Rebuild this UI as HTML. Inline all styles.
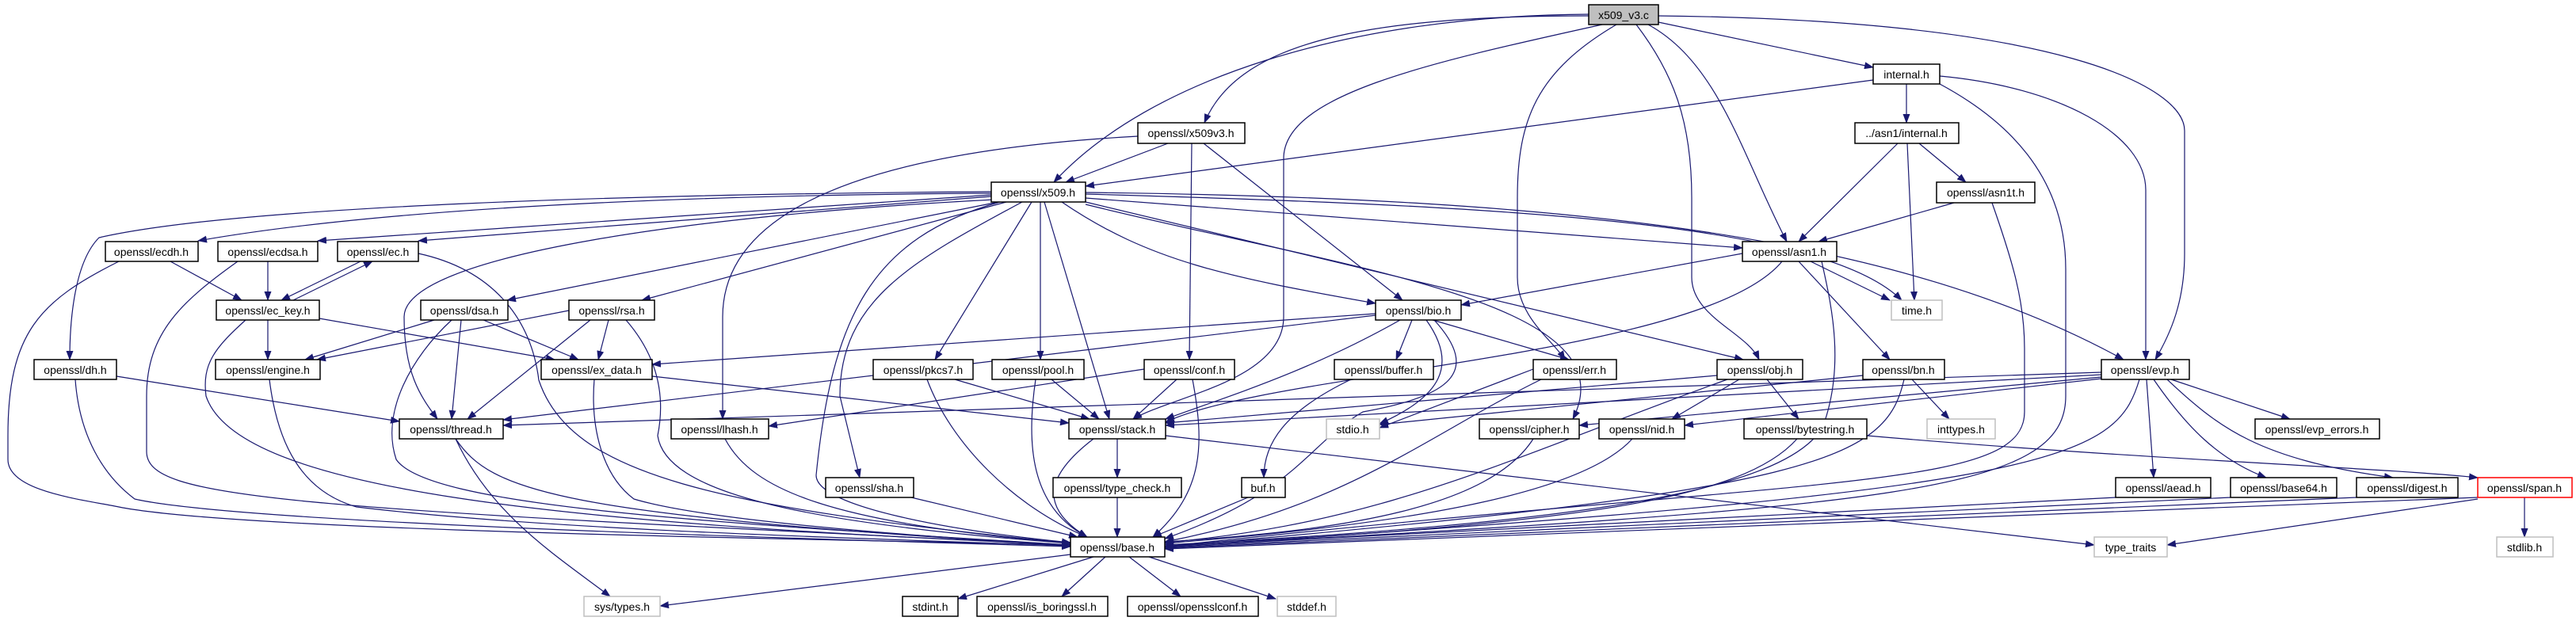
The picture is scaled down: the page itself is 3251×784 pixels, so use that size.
<!DOCTYPE html>
<html><head><meta charset="utf-8"><style>
html,body{margin:0;padding:0;background:#fff;}
svg{display:block;}
.e{fill:none;stroke:#191970;stroke-width:1.2;marker-end:url(#a);}
.n rect{fill:#fff;stroke:#000;stroke-width:1.5;}
.g rect{fill:#fff;stroke:#bfbfbf;stroke-width:1.5;}
text{font-family:"Liberation Sans",sans-serif;font-size:14px;fill:#000;text-anchor:middle;}
</style></head><body>
<svg width="3251" height="784" viewBox="0 0 3251 784" xmlns="http://www.w3.org/2000/svg">
<defs><marker id="a" markerWidth="12" markerHeight="9" refX="11" refY="4.5" orient="auto" markerUnits="userSpaceOnUse"><path d="M0,0 L12,4.5 L0,9 z" fill="#191970"/></marker></defs>
<g>
<path class="e" d="M2005,20 C1700,20 1560,60 1520,155"/>
<path class="e" d="M2005,18 C1700,20 1450,100 1330,230"/>
<path class="e" d="M2022,31 C1800,80 1620,120 1620,200 L1620,400 C1620,480 1480,500 1430,529"/>
<path class="e" d="M2040,31 C1940,90 1915,150 1915,250 L1915,350 C1915,400 1960,430 1975,454"/>
<path class="e" d="M2065,31 C2110,90 2135,150 2135,250 L2135,350 C2135,400 2205,420 2220,454"/>
<path class="e" d="M2080,31 C2170,80 2200,200 2255,305"/>
<path class="e" d="M2093,28 L2364,85"/>
<path class="e" d="M2093,20 C2600,25 2757,110 2757,165 L2757,320 C2757,380 2740,420 2720,454"/>
<path class="e" d="M2406,106 L2406,155"/>
<path class="e" d="M2364,101 L1370,235"/>
<path class="e" d="M2448,96 C2600,110 2708,170 2708,240 L2708,454"/>
<path class="e" d="M2448,106 C2530,150 2607,220 2607,340 L2607,500 C2607,620 2400,640 1470,690"/>
<path class="e" d="M2395,181 L2270,305"/>
<path class="e" d="M2407,181 L2416,379"/>
<path class="e" d="M2422,181 L2481,230"/>
<path class="e" d="M2466,256 L2295,305"/>
<path class="e" d="M2514,256 C2540,330 2555,380 2555,440 L2555,520 C2555,620 2300,600 1470,690"/>
<path class="e" d="M1474,181 L1345,230"/>
<path class="e" d="M1519,181 L1770,379"/>
<path class="e" d="M1504,181 L1501,454"/>
<path class="e" d="M1436,172 C1200,185 912,230 912,400 L912,529"/>
<path class="e" d="M1251,244 C900,246 500,260 250,304"/>
<path class="e" d="M1251,246 L401,304"/>
<path class="e" d="M1251,248 L528,304"/>
<path class="e" d="M1251,242 C800,245 300,260 125,300 C95,330 88,400 88,454"/>
<path class="e" d="M1260,255 L640,379"/>
<path class="e" d="M1270,255 L810,379"/>
<path class="e" d="M1255,252 C900,270 510,320 510,400 C510,470 530,500 552,529"/>
<path class="e" d="M1290,255 C1150,330 1060,380 1060,500 L1085,603"/>
<path class="e" d="M1302,255 L1180,454"/>
<path class="e" d="M1313,255 L1313,454"/>
<path class="e" d="M1318,255 L1400,529"/>
<path class="e" d="M1262,255 C1100,300 1050,400 1030,600 C1030,640 1200,670 1351,685"/>
<path class="e" d="M1340,255 C1450,330 1550,350 1736,383"/>
<path class="e" d="M1370,258 C1700,340 2060,380 1985,529"/>
<path class="e" d="M1370,255 L2200,454"/>
<path class="e" d="M1370,250 L2199,313"/>
<path class="e" d="M1370,245 C1900,260 2300,280 2400,379"/>
<path class="e" d="M1370,243 C2000,250 2400,300 2680,454"/>
<path class="e" d="M150,330 C50,380 10,420 10,550 L10,580 C10,620 100,630 150,640 C300,670 1000,680 1351,688"/>
<path class="e" d="M215,330 L305,379"/>
<path class="e" d="M338,330 L338,379"/>
<path class="e" d="M300,330 C230,380 185,420 185,500 L185,570 C185,630 350,640 1351,688"/>
<path class="e" d="M455,330 L355,379"/>
<path class="e" d="M528,320 C620,340 670,400 680,480 C720,600 900,640 1351,686"/>
<path class="e" d="M370,379 L470,330"/>
<path class="e" d="M338,404 L338,454"/>
<path class="e" d="M403,402 L700,454"/>
<path class="e" d="M310,404 C270,440 255,460 260,500 C300,620 700,660 1351,688"/>
<path class="e" d="M548,404 L385,454"/>
<path class="e" d="M610,404 L730,454"/>
<path class="e" d="M582,404 L570,529"/>
<path class="e" d="M570,404 C520,450 480,520 500,580 C540,640 900,660 1351,688"/>
<path class="e" d="M718,392 L400,454"/>
<path class="e" d="M768,404 L755,454"/>
<path class="e" d="M745,404 L590,529"/>
<path class="e" d="M790,404 C830,450 840,500 830,550 C840,620 1000,660 1351,686"/>
<path class="e" d="M147,475 L504,532"/>
<path class="e" d="M95,479 C100,550 130,600 170,630 C300,660 1000,680 1351,690"/>
<path class="e" d="M340,479 C350,560 380,620 450,640 C700,670 1100,680 1351,689"/>
<path class="e" d="M823,475 L1349,534"/>
<path class="e" d="M750,479 C745,540 760,600 800,630 C900,660 1200,680 1351,688"/>
<path class="e" d="M575,554 C620,620 700,650 1351,689"/>
<path class="e" d="M575,554 C620,650 700,700 770,753"/>
<path class="e" d="M915,554 C950,620 1050,660 1351,686"/>
<path class="e" d="M1150,628 L1360,678"/>
<path class="e" d="M1205,479 L1375,529"/>
<path class="e" d="M1170,479 C1200,560 1280,640 1372,678"/>
<path class="e" d="M1327,479 L1387,529"/>
<path class="e" d="M1307,479 C1295,560 1300,640 1372,678"/>
<path class="e" d="M1485,479 L1430,529"/>
<path class="e" d="M1505,479 C1520,560 1520,620 1455,678"/>
<path class="e" d="M1444,466 L970,538"/>
<path class="e" d="M1736,396 L823,460"/>
<path class="e" d="M1736,398 L635,530"/>
<path class="e" d="M1767,404 C1650,470 1550,500 1471,529"/>
<path class="e" d="M1782,404 L1762,454"/>
<path class="e" d="M1808,404 L1980,454"/>
<path class="e" d="M1800,404 C1840,460 1820,500 1741,535"/>
<path class="e" d="M1810,404 C1870,470 1830,500 1720,520 C1650,560 1640,620 1470,680"/>
<path class="e" d="M1705,479 C1620,520 1595,560 1595,603"/>
<path class="e" d="M1575,628 L1455,678"/>
<path class="e" d="M1935,466 L1741,540"/>
<path class="e" d="M1945,479 C1800,550 1700,640 1470,684"/>
<path class="e" d="M2195,479 L2110,529"/>
<path class="e" d="M2230,479 L2270,529"/>
<path class="e" d="M2180,479 C1900,580 1750,660 1470,685"/>
<path class="e" d="M2167,474 L1471,534"/>
<path class="e" d="M2199,320 L1844,385"/>
<path class="e" d="M2285,330 L2385,379"/>
<path class="e" d="M2270,330 L2385,454"/>
<path class="e" d="M2299,330 C2310,380 2330,460 2300,540 C2250,620 2000,660 1470,688"/>
<path class="e" d="M2249,330 C2150,450 1600,470 1471,533"/>
<path class="e" d="M2413,479 L2460,529"/>
<path class="e" d="M2403,479 C2380,580 2300,620 1470,690"/>
<path class="e" d="M2351,474 L1741,536"/>
<path class="e" d="M2652,470 L635,537"/>
<path class="e" d="M2652,473 L1471,537"/>
<path class="e" d="M2652,476 L1993,537"/>
<path class="e" d="M2652,478 L2126,537"/>
<path class="e" d="M2740,479 L2890,529"/>
<path class="e" d="M2709,479 L2718,603"/>
<path class="e" d="M2718,479 C2760,540 2800,580 2860,603"/>
<path class="e" d="M2735,479 C2800,540 2850,580 3020,603"/>
<path class="e" d="M2700,479 C2670,580 2600,620 1470,690"/>
<path class="e" d="M2268,554 C2200,630 2000,660 1470,690"/>
<path class="e" d="M2356,550 C2700,580 3000,590 3127,603"/>
<path class="e" d="M1935,554 C1880,640 1700,670 1470,684"/>
<path class="e" d="M2060,554 C2000,620 1800,660 1470,686"/>
<path class="e" d="M1410,554 L1410,603"/>
<path class="e" d="M1380,554 C1320,600 1310,640 1372,678"/>
<path class="e" d="M1471,550 L2643,688"/>
<path class="e" d="M1410,628 L1410,678"/>
<path class="e" d="M2670,628 L1470,690"/>
<path class="e" d="M2815,628 L1470,691"/>
<path class="e" d="M2974,628 L1470,692"/>
<path class="e" d="M3127,628 L1470,693"/>
<path class="e" d="M3127,630 L2735,688"/>
<path class="e" d="M3186,628 L3186,678"/>
<path class="e" d="M1380,703 L1209,756"/>
<path class="e" d="M1395,703 L1340,753"/>
<path class="e" d="M1425,703 L1490,753"/>
<path class="e" d="M1450,703 L1610,756"/>
<path class="e" d="M1351,700 L833,765"/>
</g>
<g class="n"><rect x="2005" y="6" width="88" height="25" style="fill:#bfbfbf"/><text x="2049" y="24">x509_v3.c</text></g>
<g class="n"><rect x="2364" y="81" width="84" height="25"/><text x="2406" y="99">internal.h</text></g>
<g class="n"><rect x="1436" y="155" width="135" height="26"/><text x="1503" y="173">openssl/x509v3.h</text></g>
<g class="n"><rect x="2341" y="155" width="131" height="26"/><text x="2406" y="173">../asn1/internal.h</text></g>
<g class="n"><rect x="1251" y="230" width="119" height="25"/><text x="1310" y="248">openssl/x509.h</text></g>
<g class="n"><rect x="2444" y="230" width="124" height="26"/><text x="2506" y="248">openssl/asn1t.h</text></g>
<g class="n"><rect x="133" y="305" width="117" height="25"/><text x="191" y="323">openssl/ecdh.h</text></g>
<g class="n"><rect x="275" y="305" width="126" height="25"/><text x="338" y="323">openssl/ecdsa.h</text></g>
<g class="n"><rect x="426" y="305" width="102" height="25"/><text x="477" y="323">openssl/ec.h</text></g>
<g class="n"><rect x="2199" y="305" width="119" height="25"/><text x="2258" y="323">openssl/asn1.h</text></g>
<g class="n"><rect x="273" y="379" width="130" height="25"/><text x="338" y="397">openssl/ec_key.h</text></g>
<g class="n"><rect x="531" y="379" width="110" height="25"/><text x="586" y="397">openssl/dsa.h</text></g>
<g class="n"><rect x="718" y="379" width="108" height="25"/><text x="772" y="397">openssl/rsa.h</text></g>
<g class="n"><rect x="1736" y="379" width="108" height="25"/><text x="1790" y="397">openssl/bio.h</text></g>
<g class="g"><rect x="2387" y="379" width="64" height="25"/><text x="2419" y="397">time.h</text></g>
<g class="n"><rect x="43" y="454" width="104" height="25"/><text x="95" y="472">openssl/dh.h</text></g>
<g class="n"><rect x="272" y="454" width="132" height="25"/><text x="338" y="472">openssl/engine.h</text></g>
<g class="n"><rect x="683" y="454" width="140" height="25"/><text x="753" y="472">openssl/ex_data.h</text></g>
<g class="n"><rect x="1102" y="454" width="126" height="25"/><text x="1165" y="472">openssl/pkcs7.h</text></g>
<g class="n"><rect x="1252" y="454" width="116" height="25"/><text x="1310" y="472">openssl/pool.h</text></g>
<g class="n"><rect x="1444" y="454" width="114" height="25"/><text x="1501" y="472">openssl/conf.h</text></g>
<g class="n"><rect x="1684" y="454" width="125" height="25"/><text x="1746" y="472">openssl/buffer.h</text></g>
<g class="n"><rect x="1935" y="454" width="105" height="25"/><text x="1987" y="472">openssl/err.h</text></g>
<g class="n"><rect x="2167" y="454" width="108" height="25"/><text x="2221" y="472">openssl/obj.h</text></g>
<g class="n"><rect x="2351" y="454" width="103" height="25"/><text x="2402" y="472">openssl/bn.h</text></g>
<g class="n"><rect x="2652" y="454" width="111" height="25"/><text x="2707" y="472">openssl/evp.h</text></g>
<g class="n"><rect x="504" y="529" width="131" height="25"/><text x="569" y="547">openssl/thread.h</text></g>
<g class="n"><rect x="847" y="529" width="123" height="25"/><text x="908" y="547">openssl/lhash.h</text></g>
<g class="n"><rect x="1349" y="529" width="122" height="25"/><text x="1410" y="547">openssl/stack.h</text></g>
<g class="g"><rect x="1674" y="529" width="67" height="25"/><text x="1707" y="547">stdio.h</text></g>
<g class="n"><rect x="1867" y="529" width="126" height="25"/><text x="1930" y="547">openssl/cipher.h</text></g>
<g class="n"><rect x="2018" y="529" width="108" height="25"/><text x="2072" y="547">openssl/nid.h</text></g>
<g class="n"><rect x="2201" y="529" width="155" height="25"/><text x="2278" y="547">openssl/bytestring.h</text></g>
<g class="g"><rect x="2432" y="529" width="86" height="25"/><text x="2475" y="547">inttypes.h</text></g>
<g class="n"><rect x="2846" y="529" width="157" height="25"/><text x="2924" y="547">openssl/evp_errors.h</text></g>
<g class="n"><rect x="1042" y="603" width="111" height="25"/><text x="1097" y="621">openssl/sha.h</text></g>
<g class="n"><rect x="1329" y="603" width="162" height="25"/><text x="1410" y="621">openssl/type_check.h</text></g>
<g class="n"><rect x="1567" y="603" width="55" height="25"/><text x="1594" y="621">buf.h</text></g>
<g class="n"><rect x="2670" y="603" width="120" height="25"/><text x="2730" y="621">openssl/aead.h</text></g>
<g class="n"><rect x="2815" y="603" width="134" height="25"/><text x="2882" y="621">openssl/base64.h</text></g>
<g class="n"><rect x="2974" y="603" width="128" height="25"/><text x="3038" y="621">openssl/digest.h</text></g>
<g class="n"><rect x="3127" y="603" width="119" height="25" style="stroke:#ff0000"/><text x="3186" y="621">openssl/span.h</text></g>
<g class="n"><rect x="1351" y="678" width="119" height="25"/><text x="1410" y="696">openssl/base.h</text></g>
<g class="g"><rect x="2643" y="678" width="92" height="25"/><text x="2689" y="696">type_traits</text></g>
<g class="g"><rect x="3151" y="678" width="71" height="25"/><text x="3186" y="696">stdlib.h</text></g>
<g class="g"><rect x="737" y="753" width="96" height="25"/><text x="785" y="771">sys/types.h</text></g>
<g class="n"><rect x="1139" y="753" width="70" height="25"/><text x="1174" y="771">stdint.h</text></g>
<g class="n"><rect x="1233" y="753" width="165" height="25"/><text x="1315" y="771">openssl/is_boringssl.h</text></g>
<g class="n"><rect x="1423" y="753" width="165" height="25"/><text x="1505" y="771">openssl/opensslconf.h</text></g>
<g class="g"><rect x="1612" y="753" width="74" height="25"/><text x="1649" y="771">stddef.h</text></g>
</svg>
</body></html>
